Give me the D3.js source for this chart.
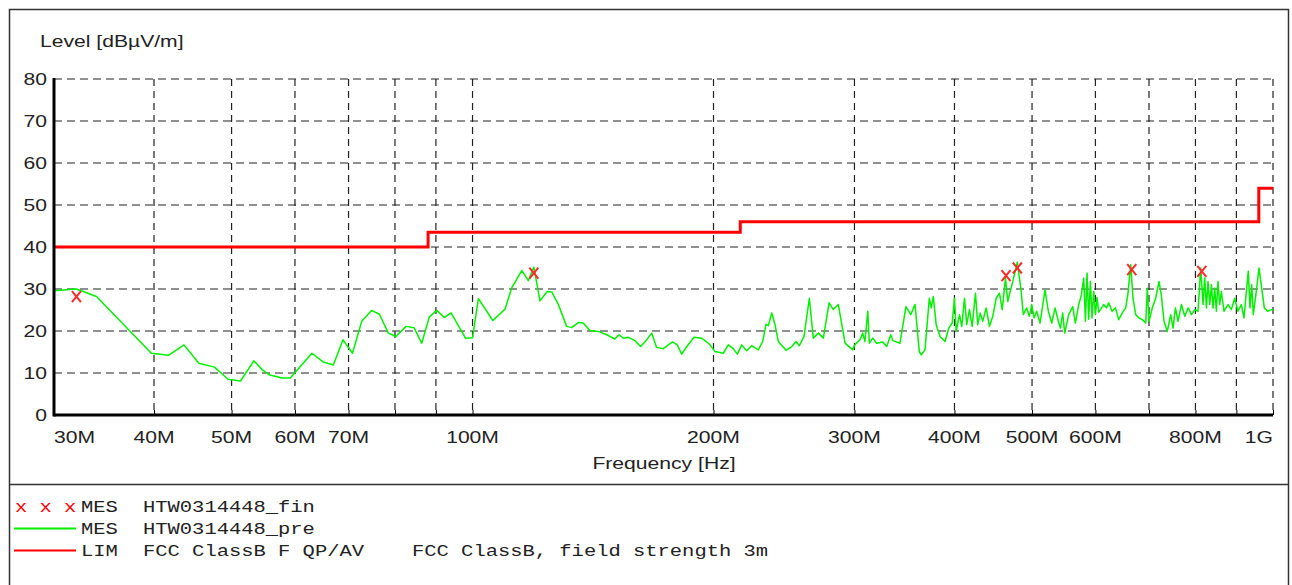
<!DOCTYPE html>
<html>
<head>
<meta charset="utf-8">
<script src="https://cdn.jsdelivr.net/npm/d3@7"></script>
<style>
  body { margin: 0; background: #fff; }
  svg { display: block; }
</style>
</head>
<body>
<svg width="1292" height="585"></svg>
<script>
// frequencies in MHz, levels in dBuV/m
var preScan = [
  [30, 29.6], [32.0, 30.0], [33.9, 28.2], [39.7, 14.7], [41.7, 14.2], [43.6, 16.7],
  [45.5, 12.3], [47.6, 11.4], [49.5, 8.5], [51.3, 8.1], [53.3, 12.9], [54.6, 10.8],
  [55.8, 9.5], [57.8, 8.8], [59.2, 8.8], [63.0, 14.7], [65.1, 12.6], [67.0, 11.9],
  [68.9, 17.9], [70.8, 14.7], [72.7, 22.3], [74.8, 24.9], [76.5, 24.0], [78.5, 19.5],
  [80.2, 18.7], [82.6, 21.1], [84.5, 20.8], [86.4, 17.1], [88.3, 23.3], [90.2, 24.9],
  [92.2, 23.2], [94.0, 24.3], [98.0, 18.3], [100.0, 18.4], [101.7, 27.7], [106.0, 22.5],
  [109.8, 25.2], [111.9, 30.2], [115.2, 34.4], [117.4, 32.0], [119.3, 35.2], [121.4, 27.2],
  [124.0, 29.4], [125.6, 29.3], [128.0, 26.3], [131.1, 21.1], [133.0, 20.8], [135.5, 22.0],
  [137.5, 21.9], [140.2, 20.1], [143.6, 19.9], [147.1, 19.1], [150.6, 18.1], [152.4, 19.1],
  [154.3, 18.3], [156.5, 18.5], [159.6, 17.7], [162.2, 16.3], [164.7, 17.7], [167.4, 19.5],
  [169.8, 16.1], [173.1, 15.8], [177.8, 17.4], [180.2, 16.7], [182.5, 14.5], [185.2, 16.3],
  [189.1, 18.5], [193.3, 18.3], [197.6, 16.9], [200.9, 15.1], [205.7, 14.7], [208.7, 16.7],
  [211.7, 15.8], [214.2, 14.5], [216.9, 16.7], [220.0, 15.3], [223.2, 16.5], [227.5, 15.5],
  [230.4, 17.5], [232.6, 21.6], [234.2, 21.3], [236.5, 24.3], [238.7, 21.5], [241.0, 17.5],
  [246.4, 15.4], [250.5, 16.3], [253.6, 17.5], [256.0, 16.5], [259.5, 18.7], [263.5, 27.8],
  [266.5, 18.3], [270.4, 19.5], [274.3, 18.3], [278.9, 26.7], [282.3, 25.1], [286.4, 26.3],
  [292.0, 17.1], [298.5, 15.5], [300.3, 16.7], [304.8, 17.9], [307.2, 19.5], [309.2, 17.5],
  [311.7, 24.7], [313.1, 17.1], [316.2, 18.3], [319.8, 17.1], [325.4, 17.4], [329.2, 16.3],
  [333.0, 19.1], [335.0, 17.7], [342.0, 17.1], [347.9, 25.8], [352.7, 23.9], [357.1, 26.3],
  [361.5, 15.1], [363.5, 14.3], [367.5, 15.5], [372.1, 27.8], [374.1, 25.5], [376.4, 28.2],
  [379.5, 21.5], [383.7, 18.7], [389.3, 17.5], [393.5, 20.7], [397.4, 21.9], [400.0, 27.8],
  [402.0, 19.9], [405.8, 23.9], [408.5, 21.1], [411.7, 27.8], [414.4, 21.5], [417.6, 25.1],
  [420.9, 21.1], [424.9, 29.0], [427.7, 21.5], [430.7, 24.3], [433.9, 22.3], [438.2, 25.5],
  [442.4, 21.1], [446.6, 23.5], [451.0, 27.8], [455.3, 29.0], [458.9, 25.1], [463.2, 32.6],
  [466.3, 27.0], [469.5, 29.4], [473.1, 31.8], [479.3, 36.4], [484.4, 29.8], [487.6, 23.9],
  [492.4, 25.5], [496.1, 23.5], [499.6, 26.3], [502.9, 23.1], [506.8, 24.7], [511.6, 21.9],
  [519.1, 29.8], [524.0, 24.7], [529.2, 21.9], [534.2, 25.5], [539.3, 22.3], [542.5, 20.7],
  [546.1, 24.3], [549.3, 19.5], [555.6, 23.9], [562.1, 25.8], [566.4, 21.9], [571.9, 26.3],
  [576.3, 28.6], [580.1, 32.6], [583.0, 22.3], [585.7, 33.8], [588.5, 22.8], [591.4, 31.8],
  [594.2, 23.1], [597.1, 29.4], [600.0, 23.9], [602.8, 28.0], [605.7, 24.5], [608.7, 25.1],
  [614.5, 26.3], [619.3, 25.5], [623.4, 26.7], [629.4, 24.7], [635.5, 25.5], [641.6, 22.7],
  [648.2, 24.3], [654.6, 25.5], [659.0, 29.0], [664.1, 35.8], [668.5, 27.8], [673.7, 23.9],
  [680.1, 23.1], [686.6, 22.7], [693.4, 21.9], [696.6, 30.2], [700.0, 22.3], [706.7, 25.5],
  [713.6, 27.8], [720.4, 31.8], [725.2, 28.6], [730.9, 22.3], [737.8, 19.9], [745.1, 23.9],
  [750.1, 20.7], [755.3, 25.5], [760.9, 22.3], [768.4, 26.3], [775.8, 23.5], [783.2, 25.5],
  [790.8, 23.9], [798.4, 25.1], [806.0, 24.7], [812.3, 35.0], [817.7, 26.3], [821.7, 32.6],
  [825.7, 25.5], [829.5, 31.8], [833.6, 26.3], [837.7, 31.0], [841.5, 25.5], [845.7, 30.2],
  [849.7, 24.7], [853.6, 31.8], [857.8, 26.3], [862.0, 29.4], [868.5, 24.7], [878.5, 26.3],
  [887.1, 25.1], [895.6, 27.8], [904.1, 24.7], [913.0, 26.3], [919.9, 23.1], [927.1, 30.2],
  [931.4, 34.2], [936.0, 25.5], [940.6, 31.0], [944.9, 23.9], [954.2, 30.2], [960.5, 35.0],
  [968.0, 30.2], [975.3, 25.5], [984.9, 24.7], [996.3, 25.1], [1000, 25.0]
];

var finalScan = [
  [32.0, 28.2], [119.3, 33.8], [464.0, 33.2], [479.3, 35.0], [666.1, 34.6], [814.8, 34.2]
];

var limitSteps = [
  [30, 40], [88, 40], [88, 43.5], [216, 43.5], [216, 46], [960, 46], [960, 54], [1000, 54]
];

var levelTicks = [0, 10, 20, 30, 40, 50, 60, 70, 80];
var gridFreqs = [40, 50, 60, 70, 80, 90, 100, 200, 300, 400, 500, 600, 700, 800, 900, 1000];
var labelFreqs = [30, 40, 50, 60, 70, 100, 200, 300, 400, 500, 600, 800, 1000];
var labelTexts = ['30M', '40M', '50M', '60M', '70M', '100M', '200M', '300M', '400M', '500M', '600M', '800M', '1G'];

var legendRows = [
  { kind: 'MES', name: 'HTW0314448_fin', note: '' },
  { kind: 'MES', name: 'HTW0314448_pre', note: '' },
  { kind: 'LIM', name: 'FCC ClassB F QP/AV', note: 'FCC ClassB, field strength 3m' }
];

var emcChart = (function() {
    'use strict';

    var svg = d3.select('svg');
    var sans = 'Arial, "Liberation Sans", sans-serif';
    var mono = '"Courier New", "Liberation Mono", monospace';
    var stretch = 1.28;   // the original print is wider than tall

    var x = d3.scaleLog().domain([30, 1000]).range([54, 1273]);
    var y = d3.scaleLinear().domain([0, 80]).range([415, 79]);

    // text placed at (px, py) and widened like the source picture
    var label = function(parent, px, py, str, anchor, family, size) {
        return parent.append('text')
            .attr('transform', 'translate(' + px + ',' + py + ') scale(' + stretch + ',1)')
            .attr('text-anchor', anchor || 'start')
            .attr('font-family', family || sans)
            .attr('font-size', size || 16.5)
            .attr('fill', '#222')
            .text(str);
    };

    var drawFrame = function() {
        svg.append('rect')
            .attr('x', 9.5).attr('y', 9.5)
            .attr('width', 1279).attr('height', 600)
            .attr('fill', 'none').attr('stroke', '#333').attr('stroke-width', 1.5);
        svg.append('line')
            .attr('x1', 9).attr('x2', 1289)
            .attr('y1', 484.5).attr('y2', 484.5)
            .attr('stroke', '#333').attr('stroke-width', 1.5);
    };

    var drawGrid = function() {
        var g = svg.append('g').attr('class', 'grid');
        g.selectAll('line.h')
            .data(levelTicks.slice(1))
            .enter().append('line')
                .attr('class', 'h')
                .attr('x1', x(30)).attr('x2', x(1000))
                .attr('y1', function(d) { return y(d); })
                .attr('y2', function(d) { return y(d); })
                .attr('stroke', '#222').attr('stroke-width', 1.2)
                .attr('stroke-dasharray', '8,5');
        g.selectAll('line.v')
            .data(gridFreqs)
            .enter().append('line')
                .attr('class', 'v')
                .attr('x1', function(d) { return x(d); })
                .attr('x2', function(d) { return x(d); })
                .attr('y1', y(80)).attr('y2', y(0))
                .attr('stroke', '#222').attr('stroke-width', 1.2)
                .attr('stroke-dasharray', '7,5');
    };

    var drawAxes = function() {
        var xAxis = d3.axisBottom(x)
            .tickValues(gridFreqs)
            .tickSize(-5)
            .tickFormat('');
        svg.append('g')
            .attr('transform', 'translate(0,' + y(0) + ')')
            .call(xAxis)
            .call(function(g) {
                g.select('.domain').attr('stroke', '#000').attr('stroke-width', 3)
                    .attr('d', 'M' + x(30) + ',0H' + x(1000));
                g.selectAll('.tick line').attr('stroke', '#000');
            });

        svg.append('line')
            .attr('x1', x(30)).attr('x2', x(30))
            .attr('y1', y(80) - 1).attr('y2', y(0) + 1.5)
            .attr('stroke', '#000').attr('stroke-width', 3);

        var yl = svg.append('g');
        levelTicks.forEach(function(d) {
            label(yl, 47, y(d) + 6, d, 'end');
        });

        var xl = svg.append('g');
        labelFreqs.forEach(function(d, i) {
            var anchor = 'middle';
            if (i === 0) anchor = 'start';
            if (i === labelFreqs.length - 1) anchor = 'end';
            label(xl, x(d), 443, labelTexts[i], anchor);
        });

        label(svg, 40, 47, 'Level [dBµV/m]');
        label(svg, 664, 469, 'Frequency [Hz]', 'middle');
    };

    var drawSeries = function() {
        var line = d3.line()
            .x(function(d) { return x(d[0]); })
            .y(function(d) { return y(d[1]); });

        svg.append('path')
            .datum(limitSteps)
            .attr('d', line)
            .attr('fill', 'none')
            .attr('stroke', '#ff0000').attr('stroke-width', 3);

        svg.append('path')
            .datum(preScan)
            .attr('d', line)
            .attr('fill', 'none')
            .attr('stroke', '#00f000').attr('stroke-width', 1.5)
            .attr('stroke-linejoin', 'round');

        var marks = svg.append('g').attr('class', 'finals')
            .selectAll('g')
            .data(finalScan)
            .enter().append('g')
                .attr('transform', function(d) { return 'translate(' + x(d[0]) + ',' + y(d[1]) + ')'; });
        marks.append('path')
            .attr('d', 'M-4.5,-5.5L4.5,5.5M4.5,-5.5L-4.5,5.5')
            .attr('stroke', '#ff2a2a').attr('stroke-width', 2)
            .attr('fill', 'none');
    };

    var drawLegend = function() {
        var rowY = [512, 534, 556];
        var g = svg.append('g').attr('class', 'legend');

        label(g, 15, rowY[0], 'x x x', 'start', mono, 16).attr('fill', '#ff0000');
        g.append('line')
            .attr('x1', 14).attr('x2', 76)
            .attr('y1', rowY[1] - 5.5).attr('y2', rowY[1] - 5.5)
            .attr('stroke', '#00f000').attr('stroke-width', 2);
        g.append('line')
            .attr('x1', 14).attr('x2', 76)
            .attr('y1', rowY[2] - 5.5).attr('y2', rowY[2] - 5.5)
            .attr('stroke', '#ff0000').attr('stroke-width', 2);

        legendRows.forEach(function(r, i) {
            label(g, 81, rowY[i], r.kind, 'start', mono, 16);
            label(g, 143, rowY[i], r.name, 'start', mono, 16);
            if (r.note) {
                label(g, 412, rowY[i], r.note, 'start', mono, 16);
            }
        });
    };

    return {
        drawFrame: drawFrame,
        drawGrid: drawGrid,
        drawAxes: drawAxes,
        drawSeries: drawSeries,
        drawLegend: drawLegend
    };
}());

emcChart.drawFrame();
emcChart.drawGrid();
emcChart.drawSeries();
emcChart.drawAxes();
emcChart.drawLegend();
</script>
</body>
</html>
